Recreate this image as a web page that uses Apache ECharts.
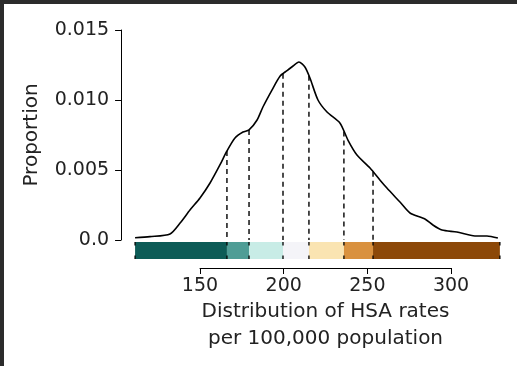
<!DOCTYPE html>
<html>
<head>
<meta charset="utf-8">
<script src="https://cdn.jsdelivr.net/npm/echarts@6/dist/echarts.min.js"></script>
<style>
  html, body { margin: 0; padding: 0; background: #ffffff; }
  #chart { width: 517px; height: 366px; }
</style>
</head>
<body>
<div id="chart"></div>
<script>
// ---- data ----
const densX = [111.2, 120.1, 132.1, 138.1, 144.0, 150.0, 156.0, 161.9, 166.1, 170.9, 175.7, 179.3,
  184.1, 187.6, 193.0, 197.8, 202.0, 205.6, 209.1, 212.7, 215.7, 220.5, 225.9, 233.6, 238.4,
  243.8, 251.6, 257.5, 261.7, 269.5, 275.5, 284.4, 289.2, 294.6, 303.5, 314.3, 321.5, 328.0];
const densY = [0.00016, 0.00024, 0.00043, 0.00121, 0.00214, 0.00300, 0.00407, 0.00536, 0.00636, 0.00729,
  0.00771, 0.00786, 0.00857, 0.00950, 0.01071, 0.01170, 0.01210, 0.01243, 0.01271, 0.01236, 0.01157,
  0.01000, 0.00914, 0.00836, 0.00714, 0.00607, 0.00514, 0.00429, 0.00371, 0.00271, 0.00193, 0.00150,
  0.00107, 0.00071, 0.00057, 0.00029, 0.00029, 0.00014];
const breaks = [111.2, 166.1, 179.3, 199.6, 215.1, 236.0, 253.4, 329.2];
const bandColors = ['#0d5c57', '#4f9d96', '#c8ece6', '#f4f4f8', '#fae4b2', '#d9913f', '#8c4808'];
const xTicks = [150, 200, 250, 300];
const yTickLabels = ['0.0', '0.005', '0.010', '0.015'];
const yStep = 0.005;

function densAt(q) {
  if (q <= densX[0]) return densY[0];
  for (let i = 1; i < densX.length; i++) {
    if (q <= densX[i]) {
      const t = (q - densX[i - 1]) / (densX[i] - densX[i - 1]);
      return densY[i - 1] + t * (densY[i] - densY[i - 1]);
    }
  }
  return densY[densY.length - 1];
}

const chart = echarts.init(document.getElementById('chart'), null, { renderer: 'canvas' });
const FONT = 'DejaVu Sans';
const pxPerUnit = 83.67 / 50;
const xMin = 110, xMax = 330;
const gLeft = 200 - (150 - xMin) * pxPerUnit;
const gWidth = (xMax - xMin) * pxPerUnit;

const bandData = [];
for (let i = 0; i < breaks.length - 1; i++) bandData.push([breaks[i], breaks[i + 1], i]);

chart.setOption({
  animation: false,
  backgroundColor: '#ffffff',
  graphic: [
    { type: 'rect', left: 0, top: 0, shape: { width: 517, height: 4 }, style: { fill: '#2b2b2b' } },
    { type: 'rect', left: 0, top: 0, shape: { width: 4, height: 366 }, style: { fill: '#2b2b2b' } }
  ],
  grid: [
    { left: gLeft, width: gWidth, top: 30, height: 210 },
    { left: gLeft, width: gWidth, top: 242, height: 17 },
    { left: 200, width: 150 * pxPerUnit, top: 267, height: 1 }
  ],
  xAxis: [
    { gridIndex: 0, type: 'value', min: xMin, max: xMax, show: false },
    { gridIndex: 1, type: 'value', min: xMin, max: xMax, show: false },
    {
      gridIndex: 2, type: 'value', min: 150, max: 300, interval: 50,
      axisLine: { show: true, lineStyle: { color: '#000', width: 1 } },
      axisTick: { show: true, length: 6, lineStyle: { color: '#000', width: 1 } },
      splitLine: { show: false },
      axisLabel: { color: '#222', fontFamily: FONT, fontSize: 19, margin: 7, lineHeight: 22,
        customValues: xTicks },
      name: 'Distribution of HSA rates\nper 100,000 population',
      nameLocation: 'middle', nameGap: 28,
      nameTextStyle: { color: '#222', fontFamily: FONT, fontSize: 20, lineHeight: 27 }
    }
  ],
  yAxis: [
    {
      gridIndex: 0, type: 'value', min: 0, max: 0.015, interval: yStep, offset: 12,
      axisLine: { show: true, lineStyle: { color: '#000', width: 1 } },
      axisTick: { show: true, length: 6, lineStyle: { color: '#000', width: 1 } },
      splitLine: { show: false },
      axisLabel: { color: '#222', fontFamily: FONT, fontSize: 19, margin: 12,
        formatter: v => yTickLabels[Math.round(v / yStep)] },
      name: 'Proportion', nameLocation: 'middle', nameGap: 77, nameRotate: 90,
      nameTextStyle: { color: '#222', fontFamily: FONT, fontSize: 20, lineHeight: 24 }
    },
    { gridIndex: 1, type: 'value', min: 0, max: 1, show: false },
    { gridIndex: 2, type: 'value', min: 0, max: 1, show: false }
  ],
  series: [
    {
      type: 'custom', xAxisIndex: 1, yAxisIndex: 1, clip: false, z: 1,
      data: bandData,
      renderItem: (params, api) => {
        const p0 = api.coord([api.value(0), 1]);
        const p1 = api.coord([api.value(1), 0]);
        return { type: 'rect', shape: { x: p0[0], y: p0[1], width: p1[0] - p0[0], height: p1[1] - p0[1] },
          style: { fill: bandColors[api.value(2)] } };
      }
    },
    {
      type: 'custom', xAxisIndex: 1, yAxisIndex: 1, clip: false, z: 3,
      data: breaks.map(b => [b]),
      renderItem: (params, api) => {
        const a = api.coord([api.value(0), 1]);
        const b = api.coord([api.value(0), 0]);
        return { type: 'line', shape: { x1: a[0], y1: a[1], x2: b[0], y2: b[1] },
          style: { stroke: '#000', lineWidth: 1.3, lineDash: [3.5, 10] } };
      }
    },
    {
      type: 'custom', xAxisIndex: 0, yAxisIndex: 0, clip: false, z: 3,
      data: breaks.slice(1, -1).map(b => [b, densAt(b)]),
      renderItem: (params, api) => {
        const a = api.coord([api.value(0), api.value(1)]);
        const b = api.coord([api.value(0), 0]);
        return { type: 'line', shape: { x1: a[0], y1: a[1], x2: b[0], y2: b[1] },
          style: { stroke: '#000', lineWidth: 1.4, lineDash: [5, 4] } };
      }
    },
    {
      type: 'line', xAxisIndex: 0, yAxisIndex: 0, z: 4,
      data: densX.map((x, i) => [x, densY[i]]),
      smooth: 0.25, showSymbol: false, symbol: 'none',
      lineStyle: { color: '#000', width: 1.6 }
    }
  ]
});
</script>
</body>
</html>
